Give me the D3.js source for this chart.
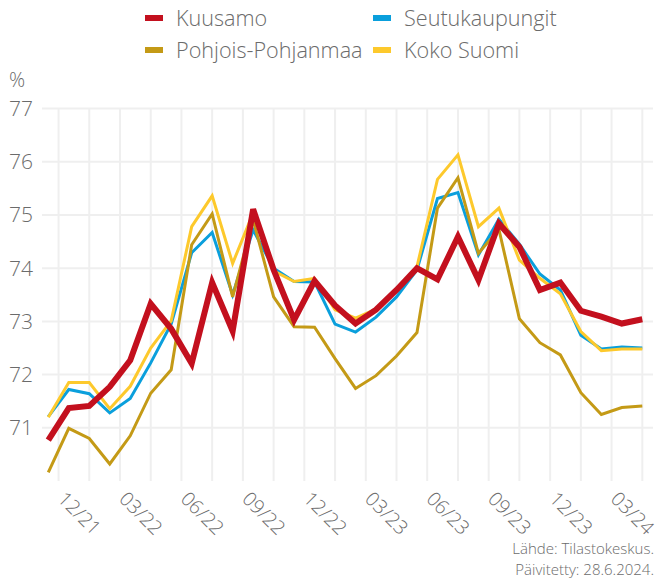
<!DOCTYPE html>
<meta charset="utf-8">
<style>
body { margin: 0; background: #fff; }
text { font-family: "Open Sans", sans-serif; font-weight: 300; fill: #6b6b6b; }
.grid line { stroke: #efefef; stroke-width: 2px; }
.line { fill: none; stroke-linejoin: miter; }
</style>
<svg width="660" height="579"></svg>
<script src="https://d3js.org/d3.v7.min.js"></script>
<script>

// kuukaudet 11/21 - 04/24
var months = ["11/21","12/21","01/22","02/22","03/22","04/22","05/22","06/22","07/22","08/22","09/22","10/22",
  "11/22","12/22","01/23","02/23","03/23","04/23","05/23","06/23","07/23","08/23","09/23","10/23",
  "11/23","12/23","01/24","02/24","03/24","04/24"];
var tickLabels = ["12/21","03/22","06/22","09/22","12/22","03/23","06/23","09/23","12/23","03/24"];
var yTicks = [71, 72, 73, 74, 75, 76, 77];

var kuusamo = [70.77, 71.37, 71.41, 71.77, 72.27, 73.33, 72.86, 72.21, 73.73, 72.82, 75.11, 73.97, 73.03, 73.76, 73.3,
  72.96, 73.22, 73.59, 74.0, 73.79, 74.59, 73.78, 74.84, 74.4, 73.59, 73.73, 73.2, 73.09, 72.96, 73.04];
var seutukaupungit = [71.21, 71.72, 71.64, 71.28, 71.55, 72.22, 72.95, 74.29, 74.67, 73.5, 74.72, 74.0, 73.75, 73.74, 72.95,
  72.8, 73.08, 73.46, 73.97, 75.31, 75.42, 74.25, 74.92, 74.45, 73.89, 73.59, 72.74, 72.48, 72.52, 72.5];
var pohjoisPohjanmaa = [70.16, 70.99, 70.8, 70.32, 70.85, 71.65, 72.09, 74.44, 75.02, 73.46, 74.91, 73.46, 72.9, 72.89, 72.3,
  71.74, 71.98, 72.35, 72.79, 75.13, 75.7, 74.28, 74.73, 73.05, 72.6, 72.37, 71.66, 71.25, 71.38, 71.41];
var kokoSuomi = [71.2, 71.85, 71.85, 71.36, 71.78, 72.5, 73.01, 74.78, 75.36, 74.09, 75.04, 73.95, 73.75, 73.81, 73.22,
  73.06, 73.23, 73.59, 74.03, 75.67, 76.13, 74.78, 75.13, 74.15, 73.81, 73.52, 72.81, 72.45, 72.48, 72.48];

var series = [
  {name: "Seutukaupungit", values: seutukaupungit, color: "#0a9fdc", width: 3},
  {name: "Pohjois-Pohjanmaa", values: pohjoisPohjanmaa, color: "#c49a16", width: 3},
  {name: "Koko Suomi", values: kokoSuomi, color: "#fdc92c", width: 3},
  {name: "Kuusamo", values: kuusamo, color: "#c3101e", width: 6}
];
var legendOrder = ["Kuusamo", "Seutukaupungit", "Pohjois-Pohjanmaa", "Koko Suomi"];

var svg = d3.select("svg");

var x = d3.scaleLinear().domain([0, months.length - 1]).range([48.3, 642.3]);
var y = d3.scaleLinear().domain([70, 77]).range([481, 108.6]);

// ruudukko
var grid = svg.append("g").attr("class", "grid");
var vx = d3.range(0.5, months.length, 1.5);
grid.selectAll(".v").data(vx).enter().append("line")
    .attr("x1", d => x(d)).attr("x2", d => x(d))
    .attr("y1", y(77)).attr("y2", y(70));
grid.selectAll(".h").data(yTicks).enter().append("line")
    .attr("x1", 42).attr("x2", 653)
    .attr("y1", d => y(d)).attr("y2", d => y(d));

// y-akseli
svg.append("g").selectAll("text").data(yTicks).enter().append("text")
    .attr("x", 33).attr("y", d => y(d)).attr("dy", "0.35em")
    .attr("text-anchor", "end").style("font-size", "21px")
    .text(d => d);

svg.append("text").attr("x", 9).attr("y", 87).style("font-size", "20px").text("%");

// x-akseli
svg.append("g").selectAll("text").data(tickLabels).enter().append("text")
    .attr("transform", (d, i) => "translate(" + (x(0.5 + 3 * i) - 2) + ",500) rotate(45)")
    .style("font-size", "19.5px")
    .text(d => d);

// viivat
var line = d3.line().x((d, i) => x(i)).y(d => y(d));
svg.append("g").selectAll("path").data(series).enter().append("path")
    .attr("class", "line")
    .attr("d", d => line(d.values))
    .attr("stroke", d => d.color)
    .attr("stroke-width", d => d.width);

// selite
var legend = svg.append("g").selectAll("g").data(legendOrder).enter().append("g")
    .attr("transform", (d, i) => "translate(" + (i % 2 ? 373 : 145) + "," + (i < 2 ? 18 : 50) + ")");
legend.append("rect").attr("x", 0).attr("y", -3).attr("width", 18).attr("height", 6)
    .attr("fill", d => series.find(s => s.name == d).color);
legend.append("text").attr("x", 31).attr("dy", "0.35em").style("font-size", "21.6px").text(d => d);

// lähde
svg.append("text").attr("x", 654).attr("y", 554).attr("text-anchor", "end")
    .style("font-size", "15px").text("Lähde: Tilastokeskus.");
svg.append("text").attr("x", 654).attr("y", 575).attr("text-anchor", "end")
    .style("font-size", "15px").text("Päivitetty: 28.6.2024.");

</script>
